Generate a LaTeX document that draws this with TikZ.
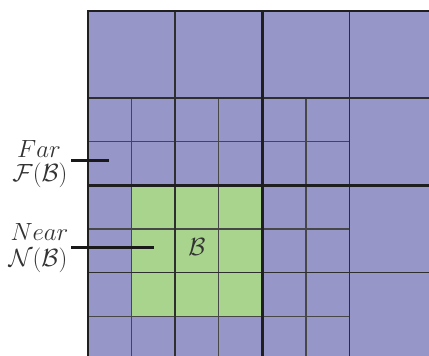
\documentclass[tikz,border=0pt]{standalone}
\begin{document}
\begin{tikzpicture}[x=1pt,y=-1pt,
  farfill/.style={fill={rgb,255:red,150;green,150;blue,200}},
  nearfill/.style={fill={rgb,255:red,168;green,212;blue,142}},
  thickln/.style={line width=2.5pt,draw=black!88},
  medln/.style={line width=1.7pt,draw=black!82},
  thinln/.style={line width=1.1pt,draw=black!72},
  ptr/.style={line width=2.5pt,draw=black!90},
  lbl/.style={text=black!80,inner sep=0pt,anchor=base,font=\fontsize{23}{26}\selectfont}]
\useasboundingbox (0,0) rectangle (429,356);
\def\s{43.6}
\def\ox{88}
\def\oy{11}
% fills
\fill[farfill] (\ox,\oy) rectangle (429,356);
\fill[nearfill] ({\ox+\s},{\oy+4*\s}) rectangle ({\ox+4*\s},{\oy+7*\s});
\begin{scope}
\clip (80,0) rectangle (429,356);
% thin lines
\draw[thinln] ({\ox+\s},{\oy+2*\s}) -- ({\ox+\s},360);
\draw[thinln] ({\ox+3*\s},{\oy+2*\s}) -- ({\ox+3*\s},360);
\draw[thinln] ({\ox+5*\s},{\oy+2*\s}) -- ({\ox+5*\s},360);
\draw[thinln] (\ox,{\oy+3*\s}) -- ({\ox+6*\s},{\oy+3*\s});
\draw[thinln] (\ox,{\oy+5*\s}) -- ({\ox+6*\s},{\oy+5*\s});
\draw[thinln] (\ox,{\oy+7*\s}) -- ({\ox+6*\s},{\oy+7*\s});
% medium lines
\draw[medln] ({\ox+2*\s},\oy) -- ({\ox+2*\s},360);
\draw[medln] ({\ox+6*\s},\oy) -- ({\ox+6*\s},360);
\draw[medln] (\ox,{\oy+2*\s}) -- (432,{\oy+2*\s});
\draw[medln] (\ox,{\oy+6*\s}) -- (432,{\oy+6*\s});
% thick lines
\draw[thickln] ({\ox+4*\s},\oy) -- ({\ox+4*\s},360);
\draw[thickln] (\ox,{\oy+4*\s}) -- (432,{\oy+4*\s});
\draw[thickln] (\ox,360) -- (\ox,\oy) -- (432,\oy);
\end{scope}
% labels
\node[lbl] (far) at (39,157) {$Far$};
\node[lbl] (farset) at (40,181.5) {$\mathcal{F}(\mathcal{B})$};
\node[lbl] (near) at (39.5,240) {$Near$};
\node[lbl] (nearset) at (38,266.5) {$\mathcal{N}(\mathcal{B})$};
\node[lbl] (bb) at (197,255) {$\mathcal{B}$};
% pointers
\coordinate (farL) at (71,160.7);
\coordinate (farR) at (108.7,160.7);
\coordinate (nearL) at (71,247.7);
\coordinate (nearR) at (154,247.7);
\draw[ptr] (farL) -- (farR);
\draw[ptr] (nearL) -- (nearR);
\end{tikzpicture}
\end{document}
